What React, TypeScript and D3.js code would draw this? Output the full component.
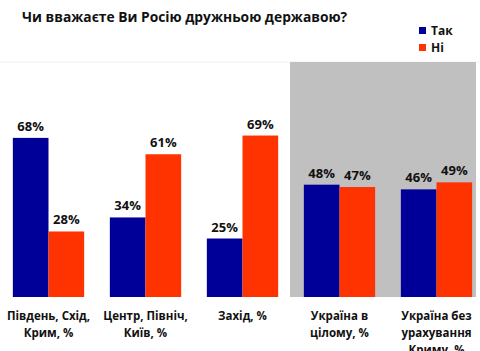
import React from "react";
import * as d3 from "d3";

const categories = ["Південь, Схід, Крим, %", "Центр, Північ, Київ, %", "Захід, %", "Україна в цілому, %", "Україна без урахування Криму, %"];
const categoryLines = [
  ["Південь,  Схід,", "Крим, %"],
  ["Центр, Північ,", "Київ, %"],
  ["Захід, %"],
  ["Україна в", "цілому, %"],
  ["Україна без", "урахування", "Криму, %"],
];
const seriesNames = ["Так", "Ні"];
const yesValues = [68, 34, 25, 48, 46];
const noValues = [28, 61, 69, 47, 49];
const colors = ["#000099", "#FF3300"];
const title = "Чи вважаєте Ви Росію дружньою державою?";

const W = 480;
const H = 351;
const FONT = "'Open Sans', 'DejaVu Sans', sans-serif";

export default function App() {
  const x = d3.scaleBand<string>().domain(categories).range([0, 485]).paddingInner(0).paddingOuter(0);
  const xs = d3.scaleBand<string>().domain(seriesNames).range([0, x.bandwidth()]).paddingInner(0).paddingOuter(0.36);
  const y = d3.scaleLinear().domain([0, 100]).range([297, 63]);
  const values = [yesValues, noValues];
  const grayX = (x(categories[3]) ?? 0) - 1;

  return (
    <svg width={W} height={H} style={{ position: "absolute", left: 0, top: 0, background: "#fff" }}>
      <rect x={0} y={0} width={W} height={H} fill="#fff" />
      <line x1={0} x2={W} y1={y(100) - 1} y2={y(100) - 1} stroke="#f0f0f0" strokeWidth={1} />
      <rect x={grayX} y={y(100) - 1} width={476 - grayX} height={y(0) - y(100) + 1} fill="#C0C0C0" />
      <text x={22} y={22} fontFamily={FONT} fontWeight={700} fontSize={13.8} fill="#111">{title}</text>
      {seriesNames.map((s, i) => (
        <g key={s}>
          <rect x={419} y={27 + i * 17} width={7} height={7} fill={colors[i]} />
          <text x={431} y={35 + i * 17} fontFamily={FONT} fontWeight={700} fontSize={12} fill="#111">{s}</text>
        </g>
      ))}
      {categories.map((c, ci) => (
        <g key={c} transform={`translate(${x(c)},0)`}>
          {seriesNames.map((s, si) => {
            const v = values[si][ci];
            const bx = xs(s) ?? 0;
            return (
              <g key={s}>
                <rect x={bx} y={y(v)} width={xs.bandwidth()} height={y(0) - y(v)} fill={colors[si]} />
                <text x={bx + xs.bandwidth() / 2} y={y(v) - 7} textAnchor="middle" fontFamily={FONT} fontWeight={700} fontSize={13} fill="#111">{v}%</text>
              </g>
            );
          })}
          {categoryLines[ci].map((ln, li) => (
            <text key={li} x={x.bandwidth() / 2} y={320 + li * 17} textAnchor="middle" fontFamily={FONT} fontWeight={700} fontSize={11.5} fill="#111">{ln}</text>
          ))}
        </g>
      ))}
    </svg>
  );
}
